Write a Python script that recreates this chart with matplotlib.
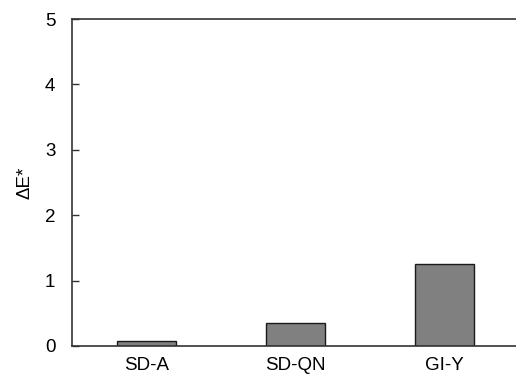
import matplotlib
matplotlib.use("Agg")
import matplotlib.pyplot as plt
import numpy as np

plt.rcParams['font.family'] = ['Liberation Sans', 'DejaVu Sans']

# data
samples = ['SD-A', 'SD-QN', 'GI-Y']
delta_e = [0.07, 0.35, 1.26]

fig = plt.figure(figsize=(5.16, 3.79), dpi=100)
ax = fig.add_axes([72/516, 1 - 346/379, 1 - 72/516, (346 - 19)/379])

x = np.arange(len(samples))
ax.bar(x, delta_e, width=0.4, color='#808080', edgecolor='#1a1a1a', linewidth=1.0)

ax.set_xlim(-0.5, 2.48)
ax.set_ylim(0, 5)
ax.set_yticks(range(0, 6))
ax.set_xticks(x)
ax.set_xticklabels(samples, fontsize=13.5)
ax.tick_params(axis='x', length=0, pad=8)
ax.tick_params(axis='y', direction='in', length=5, width=1, pad=12, labelsize=13.5, color='#333333')

ax.spines['right'].set_visible(False)
for s in ['left', 'top', 'bottom']:
    ax.spines[s].set_color('#333333')
    ax.spines[s].set_linewidth(1.2)

ax.set_ylabel('ΔE*', fontsize=13.5, labelpad=8)

fig.savefig('out.png', dpi=100)
